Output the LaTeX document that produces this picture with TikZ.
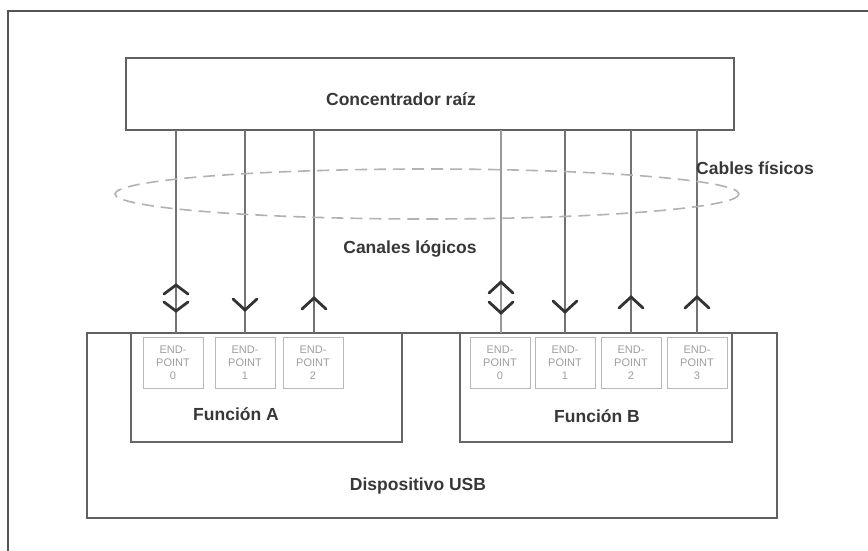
\documentclass[tikz,border=0pt]{standalone}
\usepackage{fontspec}
\setmainfont{Liberation Sans}
\begin{document}
\begin{tikzpicture}[x=1pt,y=-1pt,
  frame/.style={draw=black!67,line width=2pt},
  bigbox/.style={draw=black!62,line width=2.6pt},
  funbox/.style={draw=black!60,line width=2pt},
  epbox/.style={draw=black!28,line width=1pt,minimum width=60pt,minimum height=51pt,inner sep=0pt,
    align=center,font=\fontsize{11}{13}\selectfont,text=black!38},
  cable/.style={draw=black!55,line width=2pt},
  chev/.style={draw=black!80,line width=2.8pt,line cap=round,line join=miter},
  lbl/.style={font=\bfseries\fontsize{17.5}{20}\selectfont,text=black!78,inner sep=0pt},
  ell/.style={draw=black!30,line width=1.6pt,dash pattern=on 12pt off 7pt}]
\useasboundingbox[fill=white] (0,0) rectangle (868,551);
% outer frame (only top and left edges visible)
\draw[frame] (868,11) -- (8,11) -- (8,551);
% root hub
\draw[bigbox] (126,58) rectangle (734,130);
\node[lbl] (hub) at (401,99) {Concentrador raíz};
% USB device
\draw[bigbox] (87,333) rectangle (777,518);
\node[lbl] (usb) at (418,486) {Dispositivo USB};
% functions
\draw[funbox] (131,333) -- (131,442) -- (402,442) -- (402,333);
\draw[funbox] (460,333) -- (460,442) -- (732,442) -- (732,333);
\node[lbl] (fa) at (236,414) {Función A};
\node[lbl] (fb) at (597,416) {Función B};
% endpoints
\node[epbox] (a0) at (173,363) {END-\\POINT\\0};
\node[epbox] (a1) at (245,363) {END-\\POINT\\1};
\node[epbox] (a2) at (313,363) {END-\\POINT\\2};
\node[epbox] (b0) at (500,363) {END-\\POINT\\0};
\node[epbox] (b1) at (565,363) {END-\\POINT\\1};
\node[epbox] (b2) at (631,363) {END-\\POINT\\2};
\node[epbox] (b3) at (697,363) {END-\\POINT\\3};
% cables
\coordinate (ta0) at (176,130); \coordinate (ea0) at (176,333);
\coordinate (ta1) at (245,130); \coordinate (ea1) at (245,333);
\coordinate (ta2) at (314,130); \coordinate (ea2) at (314,333);
\coordinate (tb0) at (501,130); \coordinate (eb0) at (501,333);
\coordinate (tb1) at (565,130); \coordinate (eb1) at (565,333);
\coordinate (tb2) at (631,130); \coordinate (eb2) at (631,333);
\coordinate (tb3) at (697,130); \coordinate (eb3) at (697,333);
\draw[cable] (ta0) -- (ea0);
\draw[cable] (ta1) -- (ea1);
\draw[cable] (ta2) -- (ea2);
\draw[cable,draw=black!40,line width=1.6pt] (tb0) -- (eb0);
\draw[cable] (tb1) -- (eb1);
\draw[cable] (tb2) -- (eb2);
\draw[cable] (tb3) -- (eb3);
% dashed ellipse
\draw[ell] (427,194) ellipse [x radius=312, y radius=25];
\node[lbl,anchor=west] (cab) at (696,168) {Cables físicos};
\node[lbl] (can) at (410,249) {Canales lógicos};
% chevrons
\draw[chev] (164,294) -- (176,285) -- (188,294);
\draw[chev] (164,302) -- (176,311) -- (188,302);
\draw[chev] (233,299) -- (245,310) -- (257,299);
\draw[chev] (302,309) -- (314,298) -- (326,309);
\draw[chev] (489,293) -- (501,282) -- (513,293);
\draw[chev] (489,302) -- (501,313) -- (513,302);
\draw[chev] (553,301) -- (565,312) -- (577,301);
\draw[chev] (619,308) -- (631,297) -- (643,308);
\draw[chev] (685,308) -- (697,297) -- (709,308);
\end{tikzpicture}
\end{document}
